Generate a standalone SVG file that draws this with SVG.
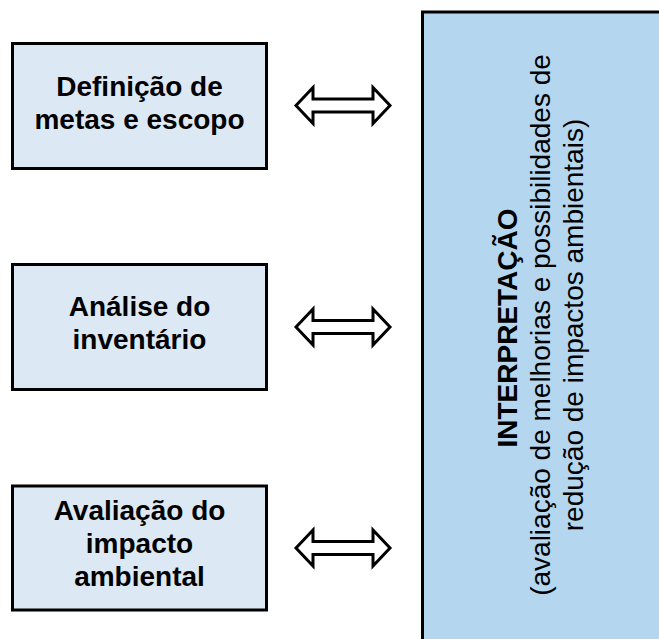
<svg xmlns="http://www.w3.org/2000/svg" width="659" height="639" viewBox="0 0 659 639">
<style>
.box{fill:#dce9f5;stroke:#000;stroke-width:3}
.big{fill:#b4d6ef;stroke:#000;stroke-width:3}
.lbl{font-family:"Liberation Sans",Arial,sans-serif;font-size:28px;font-weight:bold;fill:#000;text-anchor:middle}
.rt{font-family:"Liberation Sans",Arial,sans-serif;font-size:28px;fill:#000;text-anchor:middle}
.arr{fill:#fff;stroke:#000;stroke-width:3;stroke-linejoin:miter}
</style>
<defs>
<polygon id="dbl" points="-47,0 -30,-18 -30,-6.5 30,-6.5 30,-18 47,0 30,18 30,6.5 -30,6.5 -30,18"/>
</defs>
<rect width="659" height="639" fill="#fff"/>
<g id="interpretacao">
<rect class="big" x="422.5" y="12" width="240" height="630"/>
<text class="lbl" transform="translate(517,328) rotate(-90)">INTERPRETAÇÃO</text>
<text class="rt" transform="translate(550,325) rotate(-90)">(avaliação de melhorias e possibilidades de</text>
<text class="rt" transform="translate(583,325) rotate(-90)">redução de impactos ambientais)</text>
</g>
<g id="definicao">
<rect class="box" x="12.5" y="43.5" width="254" height="125"/>
<text class="lbl" x="139.5" y="96">Definição de</text>
<text class="lbl" x="139.5" y="129">metas e escopo</text>
</g>
<g id="analise">
<rect class="box" x="12.5" y="264.5" width="254" height="125"/>
<text class="lbl" x="139.5" y="316">Análise do</text>
<text class="lbl" x="139.5" y="349">inventário</text>
</g>
<g id="avaliacao">
<rect class="box" x="12.5" y="486" width="254" height="124"/>
<text class="lbl" x="139.5" y="520">Avaliação do</text>
<text class="lbl" x="139.5" y="553">impacto</text>
<text class="lbl" x="139.5" y="586">ambiental</text>
</g>
<g id="connectors">
<use href="#dbl" class="arr" x="343" y="105.5"/>
<use href="#dbl" class="arr" x="343" y="327"/>
<use href="#dbl" class="arr" x="343" y="548"/>
</g>
</svg>
